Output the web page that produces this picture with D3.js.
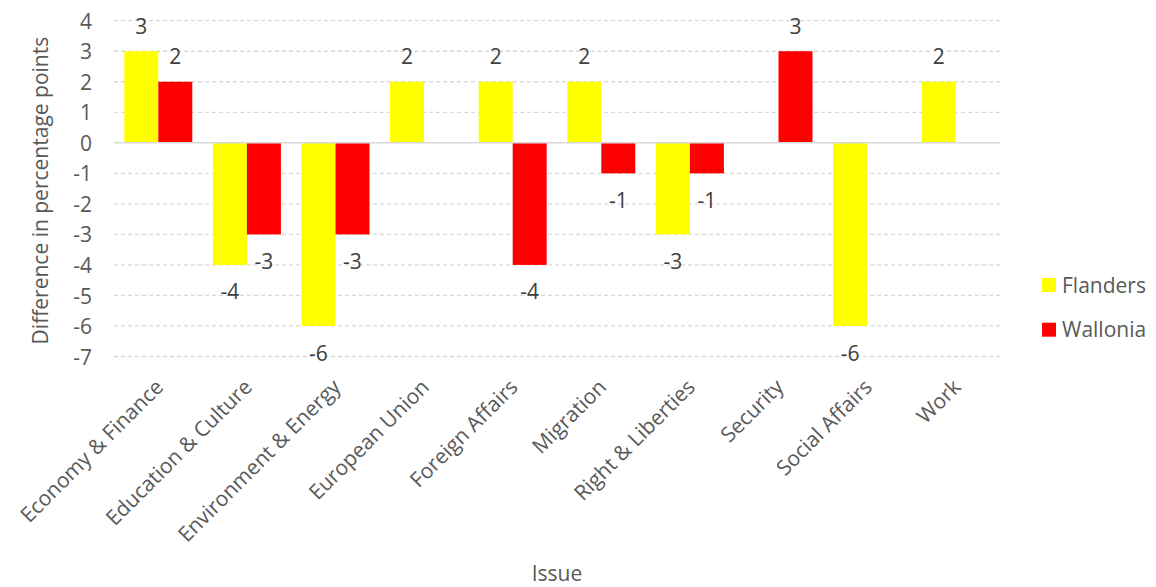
<!DOCTYPE html>
<html><head><meta charset="utf-8">
<script src="https://cdn.jsdelivr.net/npm/d3@7"></script>
<style>body{margin:0;background:#fff}svg{display:block}text{font-family:"Open Sans",sans-serif}</style>
</head><body><svg id="c" width="1156" height="587"></svg>
<script>
const categories = ["Economy & Finance","Education & Culture","Environment & Energy","European Union","Foreign Affairs","Migration","Right & Liberties","Security","Social Affairs","Work"];
const series = ["Flanders","Wallonia"];
const flanders = [3,-4,-6,2,2,2,-3,null,-6,2];
const wallonia = [2,-3,-3,null,-4,-1,-1,3,null,null];
const colors = ["#ffff00","#ff0000"];
const yTicks = [4,3,2,1,0,-1,-2,-3,-4,-5,-6,-7];
const yTitle = "Difference in percentage points";
const xTitle = "Issue";

const svg = d3.select("#c");
const pLeft=114, pRight=1000, pTop=20.7, pBottom=356.5;
const FONT = "'Open Sans',sans-serif";
const FS = "21px";
const x0 = d3.scaleBand().domain(categories).range([pLeft,pRight]).paddingInner(0.2325).paddingOuter(0.11625);
const x1 = d3.scaleBand().domain(series).range([0,x0.bandwidth()]);
const y = d3.scaleLinear().domain([-7,4]).range([pBottom,pTop]);
const gray="#595959";

// gridlines
svg.append("g").selectAll("line").data(yTicks.filter(d=>d!==0)).join("line")
 .attr("x1",pLeft).attr("x2",pRight).attr("y1",d=>y(d)).attr("y2",d=>y(d))
 .attr("stroke","#d9d9d9").attr("stroke-width",1.3).attr("stroke-dasharray","4,3");

// y tick labels
const yAxis = d3.axisLeft(y).tickValues(yTicks).tickSize(0).tickPadding(0).tickFormat(d=>String(d));
const ya = svg.append("g").attr("transform",`translate(92,0)`).call(yAxis);
ya.select(".domain").remove();
ya.attr("font-family",null).attr("font-size",null);
ya.selectAll("text").attr("fill",gray).attr("dy","0.36em").style("font-size",FS).style("font-family",FONT);

const data = series.map((s,i)=>({s, vals:(i===0?flanders:wallonia), c:colors[i]}));
const bars = [];
data.forEach(d=>d.vals.forEach((v,j)=>{ if(v!==null) bars.push({cat:categories[j], s:d.s, v, c:d.c}); }));

svg.append("g").selectAll("rect").data(bars).join("rect")
 .attr("x",d=>x0(d.cat)+x1(d.s)).attr("width",x1.bandwidth())
 .attr("y",d=>y(Math.max(0,d.v))).attr("height",d=>Math.abs(y(d.v)-y(0)))
 .attr("fill",d=>d.c);

// zero line
svg.append("line").attr("x1",pLeft).attr("x2",pRight).attr("y1",y(0)).attr("y2",y(0))
 .attr("stroke","#d9d9d9").attr("stroke-width",1.5);

// data labels
svg.append("g").selectAll("text").data(bars).join("text")
 .attr("x",d=>x0(d.cat)+x1(d.s)+x1.bandwidth()/2)
 .attr("y",d=>d.v>=0 ? y(d.v)-25 : y(d.v)+27)
 .attr("dy","0.36em").attr("text-anchor","middle")
 .attr("fill","#404040").style("font-size",FS).text(d=>d.v);

// x labels
svg.append("g").selectAll("text").data(categories).join("text")
 .attr("transform",d=>`translate(${x0(d)+x0.bandwidth()/2+1},383) rotate(-45)`)
 .attr("text-anchor","end").attr("dy","0.36em")
 .attr("fill",gray).style("font-size",FS).text(d=>d);

// axis titles
svg.append("text").attr("transform",`translate(40,${(pTop+pBottom)/2+2}) rotate(-90)`)
 .attr("text-anchor","middle").attr("dy","0.36em").attr("fill",gray).style("font-size",FS).text(yTitle);
svg.append("text").attr("x",557).attr("y",573).attr("text-anchor","middle").attr("dy","0.36em")
 .attr("fill",gray).style("font-size",FS).text(xTitle);

// legend
const lg = svg.append("g").selectAll("g").data(series).join("g")
 .attr("transform",(d,i)=>`translate(1042,${285+i*44.7})`);
lg.append("rect").attr("x",0).attr("y",-7).attr("width",14).attr("height",14).attr("fill",(d,i)=>colors[i]);
lg.append("text").attr("x",20).attr("dy","0.36em").attr("fill",gray).style("font-size",FS).text(d=>d);
</script></body></html>
